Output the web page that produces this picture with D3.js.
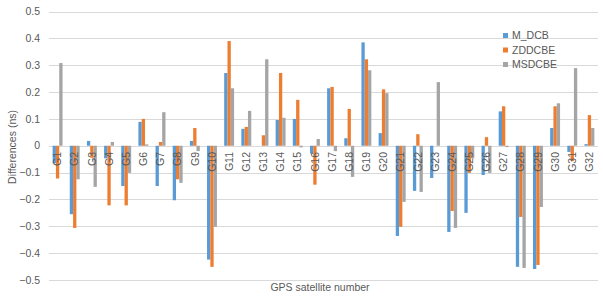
<!DOCTYPE html>
<html>
<head>
<meta charset="utf-8">
<script src="https://cdn.jsdelivr.net/npm/d3@7"></script>
<style>
  body { margin: 0; background: #fff; }
  text { font-family: "Liberation Sans", Arial, sans-serif; fill: #595959; }
</style>
</head>
<body>
<div id="chart"></div>
<script>
// Satellites and series
const satellites = d3.range(1, 33).map(i => "G" + i);
const seriesNames = ["M_DCB", "ZDDCBE", "MSDCBE"];

const mDcb = [-0.065, -0.255, 0.018, -0.047, -0.15, 0.089, -0.15, -0.203, 0.018, -0.424,
  0.271, 0.063, 0, 0.096, 0.1, -0.029, 0.214, 0.028, 0.385, 0.047,
  -0.336, -0.168, -0.12, -0.321, -0.25, -0.109, 0.128, -0.451, -0.459, 0.066,
  -0.023, 0.006];
const zdDcbe = [-0.122, -0.306, -0.045, -0.222, -0.222, 0.1, 0.014, -0.125, 0.066, -0.451,
  0.39, 0.07, 0.039, 0.271, 0.171, -0.145, 0.219, 0.137, 0.322, 0.21,
  -0.302, 0.043, 0, -0.243, -0.101, 0.032, 0.147, -0.265, -0.444, 0.147,
  -0.057, 0.114];
const msDcbe = [0.308, -0.125, -0.153, 0.014, -0.101, 0.005, 0.125, -0.138, -0.02, -0.302,
  0.214, 0.13, 0.322, 0.104, -0.006, 0.025, -0.02, -0.116, 0.281, 0.196,
  -0.209, -0.172, 0.237, -0.306, -0.047, -0.101, -0.005, -0.455, -0.228, 0.158,
  0.289, 0.066];

const yTicks = [-0.5, -0.4, -0.3, -0.2, -0.1, 0, 0.1, 0.2, 0.3, 0.4, 0.5];
const colors = { "M_DCB": "#5B9BD5", "ZDDCBE": "#ED7D31", "MSDCBE": "#A5A5A5" };

const seriesValues = { "M_DCB": mDcb, "ZDDCBE": zdDcbe, "MSDCBE": msDcbe };

const width = 603, height = 300;
const svg = d3.select("#chart").append("svg")
    .attr("width", width)
    .attr("height", height);

const x0 = d3.scaleBand().domain(satellites).range([49, 598]).padding(0);
const x1 = d3.scaleBand().domain(seriesNames).range([0, x0.bandwidth()])
    .paddingInner(0).paddingOuter(1.095);
const y = d3.scaleLinear().domain([-0.5, 0.5]).range([280, 11.5]);

// grid lines
svg.append("g").selectAll("line")
    .data(yTicks)
    .enter().append("line")
    .attr("x1", 49).attr("x2", 598)
    .attr("y1", d => Math.round(y(d)) + 0.5)
    .attr("y2", d => Math.round(y(d)) + 0.5)
    .attr("stroke", "#d9d9d9")
    .attr("stroke-width", 1);

// tick labels
svg.append("g").selectAll("text")
    .data(yTicks)
    .enter().append("text")
    .attr("x", 40)
    .attr("y", d => y(d))
    .attr("dy", "0.35em")
    .attr("text-anchor", "end")
    .attr("font-size", "10.5px")
    .text(d => d3.format("")(+d.toFixed(1)));

// bars
const groups = svg.append("g").selectAll("g")
    .data(satellites)
    .enter().append("g")
    .attr("transform", d => `translate(${x0(d)},0)`);

groups.selectAll("rect")
    .data((d, i) => seriesNames.map(s => ({ key: s, value: seriesValues[s][i] })))
    .enter().append("rect")
    .attr("x", d => x1(d.key))
    .attr("width", x1.bandwidth())
    .attr("y", d => y(Math.max(0, d.value)))
    .attr("height", d => Math.abs(y(d.value) - y(0)))
    .attr("fill", d => colors[d.key]);

// category labels, rotated, next to the zero line
svg.append("g").selectAll("text")
    .data(satellites)
    .enter().append("text")
    .attr("transform", d => `translate(${x0(d) + x0.bandwidth() / 2},152) rotate(-90)`)
    .attr("dy", "0.35em")
    .attr("text-anchor", "end")
    .attr("font-size", "10.5px")
    .text(d => d);

// axis titles
svg.append("text")
    .attr("transform", "translate(12,147) rotate(-90)")
    .attr("text-anchor", "middle")
    .attr("dy", "0.35em")
    .attr("font-size", "10.5px")
    .text("Differences (ns)");

svg.append("text")
    .attr("x", 320)
    .attr("y", 287)
    .attr("dy", "0.35em")
    .attr("text-anchor", "middle")
    .attr("font-size", "10.5px")
    .text("GPS satellite number");

// legend
const legend = svg.append("g").selectAll("g")
    .data(seriesNames)
    .enter().append("g")
    .attr("transform", (d, i) => `translate(503,${35.5 + i * 14.5})`);

legend.append("rect")
    .attr("x", 0).attr("y", -2.5)
    .attr("width", 5).attr("height", 5)
    .attr("fill", d => colors[d]);

legend.append("text")
    .attr("x", 9)
    .attr("dy", "0.35em")
    .attr("font-size", "10.5px")
    .text(d => d);
</script>
</body>
</html>
